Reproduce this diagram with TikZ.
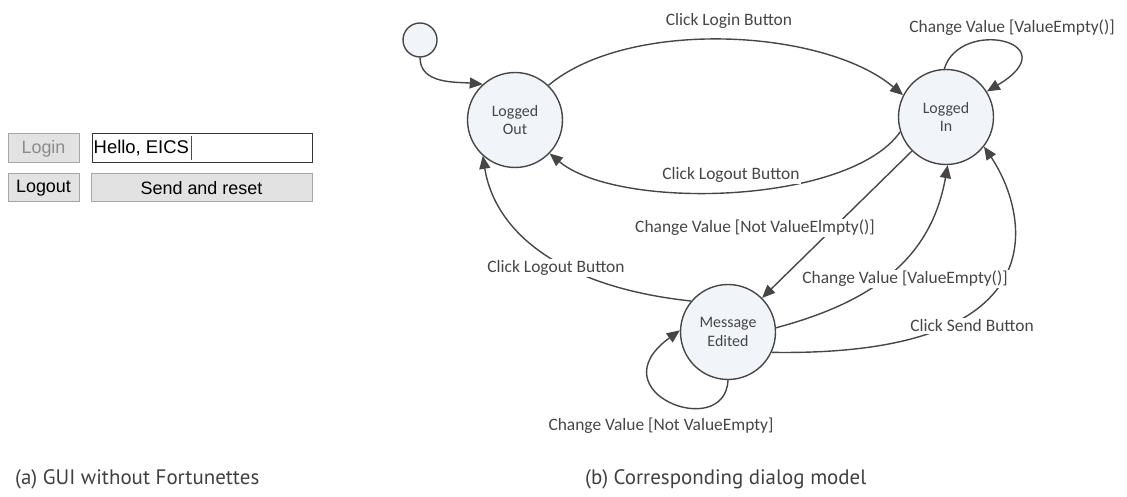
\documentclass[tikz,border=0pt]{standalone}
\usepackage{fontspec}
\setmainfont{Carlito}
\newfontfamily\guifont{Liberation Sans}
\newfontfamily\capfont{PT Sans}
\usetikzlibrary{arrows.meta}
\definecolor{edgegray}{HTML}{464646}
\definecolor{statefill}{HTML}{F1F4F9}
\definecolor{btnfill}{HTML}{E2E2E2}
\definecolor{btnline}{HTML}{A6A6A6}

\begin{document}
\begin{tikzpicture}[
  state/.style={draw=edgegray,circle,line width=1.4pt,minimum size=95bp,inner sep=0pt,align=center,fill=statefill,text=edgegray,font=\fontsize{16}{19}\selectfont},
  trans/.style={-{Triangle[length=13bp,width=11bp]},line width=1.4pt,draw=edgegray},
  lbl/.style={fill=white,inner sep=1.5bp,text=edgegray,font=\fontsize{17.5}{20}\selectfont},
  btn/.style={draw=btnline,fill=btnfill,line width=1pt,inner sep=0pt,font=\guifont\fontsize{18}{21}\selectfont},
  caption/.style={anchor=base west,inner sep=0pt,text=black!75,font=\capfont\fontsize{21}{24}\selectfont}
]
\useasboundingbox (0,0) rectangle (1127bp,497bp);

\node (Login) at (43.5bp,348.5bp)[btn,minimum width=71bp,minimum height=29bp,text=black!45] {Login};
\node (Field) at (202bp,348.5bp)[btn,draw=black!80,fill=white,minimum width=220bp,minimum height=29bp] {};
\node (Hello) at (Field.west)[anchor=west,xshift=1bp,inner sep=1bp,font=\guifont\fontsize{18.5}{21}\selectfont] {Hello, EICS};
\draw[line width=0.6pt,black!70] ([yshift=-12bp,xshift=1bp]Hello.east) -- ([yshift=12bp,xshift=1bp]Hello.east);
\node (Logout) at (43.5bp,309bp)[btn,minimum width=71bp,minimum height=28bp] {Logout};
\node (Send) at (201.5bp,309bp)[btn,minimum width=221bp,minimum height=28bp] {Send and reset};

\node (Init) at (420bp,457bp)[draw=edgegray,circle,line width=1.4pt,minimum size=34bp,fill=statefill] {};
\node (LO) at (515bp,377bp)[state] {Logged\\Out};
\node (LI) at (946bp,380bp)[state] {Logged\\In};
\node (ME) at (728bp,165bp)[state] {Message\\Edited};

\draw[trans] (Init) to[out=-90,in=175] (LO.132);
\draw[trans] (LO.46) to[out=40,in=140,looseness=0.75] (LI.153);
\draw[trans] (LI.92) .. controls (960bp,480bp) and (1070bp,455bp) .. (LI.32);
\draw[trans] (LI.198) to[out=235,in=-40,looseness=0.65] (LO.316);
\draw[trans] (LI.225) -- (ME.45);
\draw[trans] (ME.5) to[out=15,in=-100,looseness=1.05] (LI.-88);
\draw[trans] (ME.-25) .. controls (1070bp,140bp) and (1025bp,290bp) .. (LI.-38);
\draw[trans] (ME.140) .. controls (560bp,210bp) and (495bp,265bp) .. (LO.228);
\draw[trans] (ME.-90) .. controls (725bp,55bp) and (595bp,105bp) .. (ME.178);

\node (L1) at (729bp,476bp)[lbl] {Click Login Button};
\node (L2) at (1012bp,469bp)[lbl] {Change Value [ValueEmpty()]};
\node (L3) at (731bp,322bp)[lbl] {Click Logout Button};
\node (L4) at (755bp,269bp)[lbl] {Change Value [Not ValueElmpty()]};
\node (L5) at (556bp,229bp)[lbl] {Click Logout Button};
\node (L6) at (905bp,218bp)[lbl] {Change Value [ValueEmpty()]};
\node (L7) at (972bp,171bp)[lbl] {Click Send Button};
\node (L8) at (661bp,71bp)[lbl] {Change Value [Not ValueEmpty]};

\node (CapA) at (15bp,13bp)[caption] {(a) GUI without Fortunettes};
\node (CapB) at (585bp,13bp)[caption] {(b) Corresponding dialog model};
\end{tikzpicture}
\end{document}
